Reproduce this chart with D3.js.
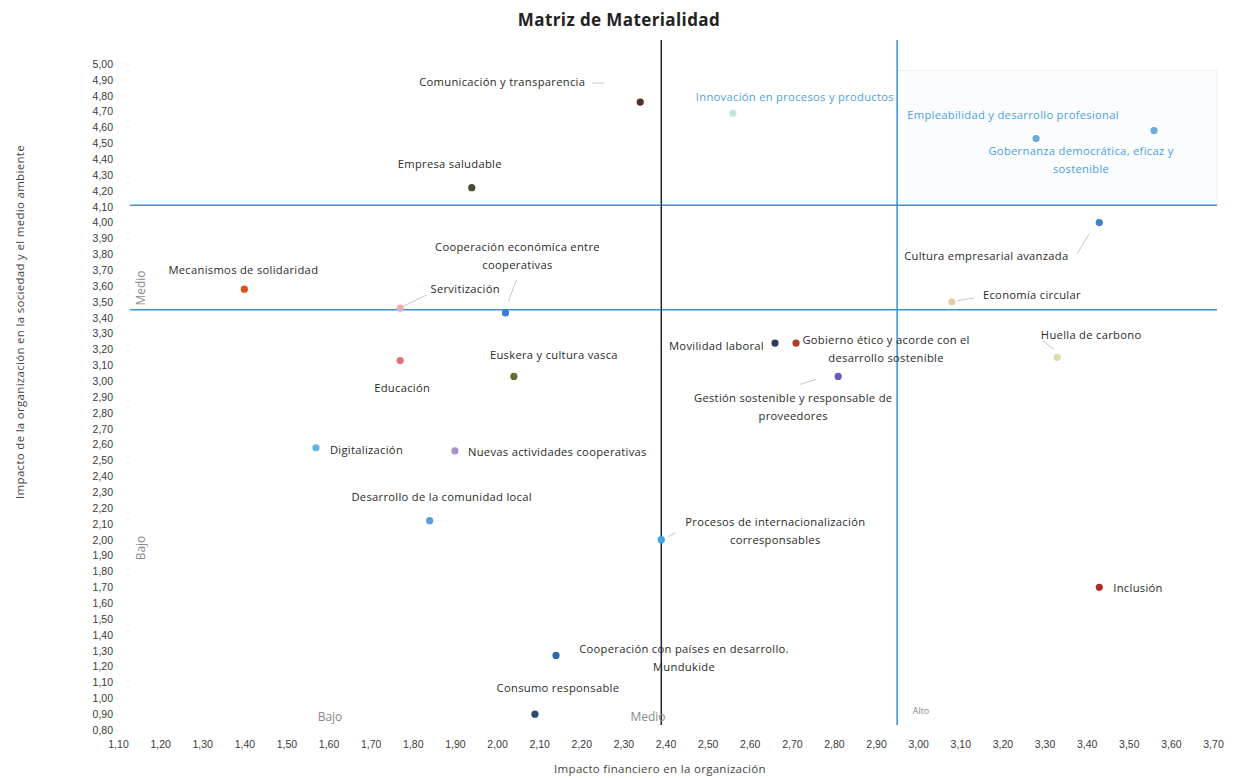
<!DOCTYPE html>
<html>
<head>
<meta charset="utf-8">
<script src="https://cdn.jsdelivr.net/npm/d3@7"></script>
<style>
  body { margin: 0; background: #fff; }
  svg { font-family: "Open Sans", Lato, sans-serif; }
  .tick text { fill: #3a3a3a; }
  .lbl { fill: #2a2a2a; font-size: 11.2px; letter-spacing: 0.3px; }
  .lbl.faded { fill: #4d9fe0; }
  .zone { fill: #8a8a8a; }
</style>
</head>
<body>
<div id="chart"></div>
<script>
// topics of the materiality matrix
var topics = [
  "Comunicación y transparencia",
  "Empresa saludable",
  "Mecanismos de solidaridad",
  "Servitización",
  "Cooperación económica entre|cooperativas",
  "Educación",
  "Digitalización",
  "Euskera y cultura vasca",
  "Nuevas actividades cooperativas",
  "Desarrollo de la comunidad local",
  "Procesos de internacionalización|corresponsables",
  "Cooperación con países en desarrollo.|Mundukide",
  "Consumo responsable",
  "Movilidad laboral",
  "Gobierno ético y acorde con el|desarrollo sostenible",
  "Gestión sostenible y responsable de|proveedores",
  "Inclusión",
  "Huella de carbono",
  "Economía circular",
  "Cultura empresarial avanzada",
  "Innovación en procesos y productos",
  "Empleabilidad y desarrollo profesional",
  "Gobernanza democrática, eficaz y|sostenible"
];
// impacto financiero en la organización
var financialImpact = [2.34, 1.94, 1.40, 1.77, 2.02, 1.77, 1.57, 2.04, 1.90, 1.84, 2.39, 2.14,
                       2.09, 2.66, 2.71, 2.81, 3.43, 3.33, 3.08, 3.43, 2.56, 3.28, 3.56];
// impacto en la sociedad y el medio ambiente
var socialImpact = [4.76, 4.22, 3.58, 3.46, 3.43, 3.13, 2.58, 3.03, 2.56, 2.12, 2.00, 1.27,
                    0.90, 3.24, 3.24, 3.03, 1.70, 3.15, 3.50, 4.00, 4.69, 4.53, 4.58];
var pointColors = ["#5b2b2e", "#4c4a30", "#e0501c", "#eab0b0", "#3c7fc6", "#e0707e", "#60b4e6",
                   "#6a6a2c", "#a592c6", "#5c9ddc", "#3ea4ec", "#2c6aa8", "#2d4a68", "#2c3c5c",
                   "#b23a2c", "#6a5cb2", "#b02a2c", "#dcdca6", "#e4cca4", "#3c82c8", "#c4e4dc",
                   "#6eaada", "#6eaada"];

// thresholds between Bajo / Medio / Alto
var xThresholds = [2.39, 2.95];
var yThresholds = [3.45, 4.11];

var xTicks = d3.range(11, 38).map(function(d) { return d / 10; });
var yTicks = d3.range(8, 51).map(function(d) { return d / 10; });

// label placement relative to its point: dx, dy, anchor, faded, leader [x1,y1,x2,y2]
var labelLayout = [
  [-55, -20, "end", false, [-48, -19, -36, -19]],
  [-22, -24, "middle", false, null],
  [-1, -19, "middle", false, null],
  [65, -19, "middle", false, [26, -13, 3, -2]],
  [12, -66, "middle", false, [11, -33, 3, -12]],
  [2, 27, "middle", false, null],
  [14, 2, "start", false, null],
  [40, -21, "middle", false, null],
  [13, 1, "start", false, null],
  [12, -24, "middle", false, null],
  [114, -18, "middle", false, [7, -3, 14, -7]],
  [128, -6, "middle", false, null],
  [23, -26, "middle", false, null],
  [-11, 3, "end", false, null],
  [90, -3, "middle", false, null],
  [-45, 22, "middle", false, [-38, 8, -22, 3]],
  [14, 1, "start", false, null],
  [34, -22, "middle", false, [-3, -8, -14, -16]],
  [80, -7, "middle", false, [22, -4, 5, -1]],
  [-113, 33, "middle", false, [-22, 31, -10, 11]],
  [62, -16, "middle", true, null],
  [-23, -24, "middle", true, null],
  [-73, 20, "middle", true, null]
];

var width = 1236, height = 778;

var x = d3.scaleLinear().domain([1.1, 3.7]).range([118, 1213]);
var y = d3.scaleLinear().domain([0.8, 5.0]).range([730, 64]);

function comma(d) { return d3.format(".2f")(d).replace(".", ","); }

var svg = d3.select("#chart").append("svg")
    .attr("width", width)
    .attr("height", height);

svg.append("text")
    .attr("x", 619).attr("y", 26)
    .attr("text-anchor", "middle")
    .style("font-size", "17px")
    .style("font-weight", "bold")
    .style("letter-spacing", "0.4px")
    .style("fill", "#222")
    .text("Matriz de Materialidad");

// faint box behind the upper right quadrant
svg.append("rect")
    .attr("x", x(xThresholds[1])).attr("y", y(4.96))
    .attr("width", 1217 - x(xThresholds[1]))
    .attr("height", y(yThresholds[1]) - y(4.96))
    .style("fill", "#fafcfe")
    .style("stroke", "#edf1f6");

// faint y axis line
svg.append("line")
    .attr("x1", 128).attr("x2", 128)
    .attr("y1", y(5)).attr("y2", y(0.8))
    .style("stroke", "#e2e2e2")
    .style("stroke-dasharray", "1,6");

svg.append("g")
    .attr("transform", "translate(113,0)")
    .call(d3.axisLeft(y).tickValues(yTicks).tickFormat(comma).tickSize(0).tickPadding(0))
    .call(function(g) { g.select(".domain").remove(); })
    .selectAll("text").style("font-size", "10.5px");

svg.append("g")
    .attr("transform", "translate(0,741)")
    .call(d3.axisBottom(x).tickValues(xTicks).tickFormat(comma).tickSize(0).tickPadding(0))
    .call(function(g) { g.select(".domain").remove(); })
    .selectAll("text").style("font-size", "10.5px");

svg.append("text")
    .attr("x", 660).attr("y", 773)
    .attr("text-anchor", "middle")
    .style("font-size", "11.5px").style("fill", "#444")
    .style("letter-spacing", "0.3px")
    .text("Impacto financiero en la organización");

svg.append("text")
    .attr("transform", "translate(24,322) rotate(-90)")
    .attr("text-anchor", "middle")
    .style("font-size", "11.5px").style("fill", "#444")
    .style("letter-spacing", "0.3px")
    .text("Impacto de la organización en la sociedad y el medio ambiente");

// threshold lines
svg.append("g").selectAll(".hline").data(yThresholds)
  .enter().append("line")
    .attr("class", "hline")
    .attr("x1", 130).attr("x2", 1217)
    .attr("y1", function(d) { return y(d); })
    .attr("y2", function(d) { return y(d); })
    .style("stroke", "#3d8fd6")
    .style("stroke-width", "1.5px");

svg.append("g").selectAll(".vline").data(xThresholds)
  .enter().append("line")
    .attr("class", "vline")
    .attr("y1", 40).attr("y2", 725)
    .attr("x1", function(d) { return x(d); })
    .attr("x2", function(d) { return x(d); })
    .style("stroke", function(d, i) { return i === 0 ? "#1f2533" : "#3d8fd6"; })
    .style("stroke-width", "1.5px");

// zone names
var zones = [
  {t: "Bajo", tx: "translate(330,721)"},
  {t: "Medio", tx: "translate(648,721)"},
  {t: "Alto", tx: "translate(921,714)", s: "9px"},
  {t: "Medio", tx: "translate(145,288) rotate(-90)"},
  {t: "Bajo", tx: "translate(145,548) rotate(-90)"}
];
svg.append("g").selectAll(".zone").data(zones)
  .enter().append("text")
    .attr("class", "zone")
    .attr("transform", function(d) { return d.tx; })
    .attr("text-anchor", "middle")
    .style("font-size", function(d) { return d.s || "12px"; })
    .text(function(d) { return d.t; });

var points = topics.map(function(t, i) {
  return {
    name: t,
    fx: financialImpact[i],
    sy: socialImpact[i],
    color: pointColors[i],
    lay: labelLayout[i]
  };
});

// leader lines
svg.append("g").selectAll(".leader").data(points.filter(function(d) { return d.lay[4]; }))
  .enter().append("line")
    .attr("class", "leader")
    .attr("x1", function(d) { return x(d.fx) + d.lay[4][0]; })
    .attr("y1", function(d) { return y(d.sy) + d.lay[4][1]; })
    .attr("x2", function(d) { return x(d.fx) + d.lay[4][2]; })
    .attr("y2", function(d) { return y(d.sy) + d.lay[4][3]; })
    .style("stroke", "#b8b8b8")
    .style("stroke-width", "0.8px");

svg.append("g").selectAll(".dot").data(points)
  .enter().append("circle")
    .attr("class", "dot")
    .attr("r", 3.6)
    .attr("cx", function(d) { return x(d.fx); })
    .attr("cy", function(d) { return y(d.sy); })
    .style("fill", function(d) { return d.color; });

var labels = svg.append("g").selectAll(".lbl").data(points)
  .enter().append("text")
    .attr("class", function(d) { return d.lay[3] ? "lbl faded" : "lbl"; })
    .attr("text-anchor", function(d) { return d.lay[2]; })
    .attr("x", function(d) { return x(d.fx) + d.lay[0]; })
    .attr("y", function(d) { return y(d.sy) + d.lay[1] + 4; });

labels.selectAll("tspan")
    .data(function(d) {
      return d.name.split("|").map(function(s) { return {s: s, px: x(d.fx) + d.lay[0]}; });
    })
  .enter().append("tspan")
    .attr("x", function(d) { return d.px; })
    .attr("dy", function(d, i) { return i === 0 ? 0 : 18; })
    .text(function(d) { return d.s; });
</script>
</body>
</html>
